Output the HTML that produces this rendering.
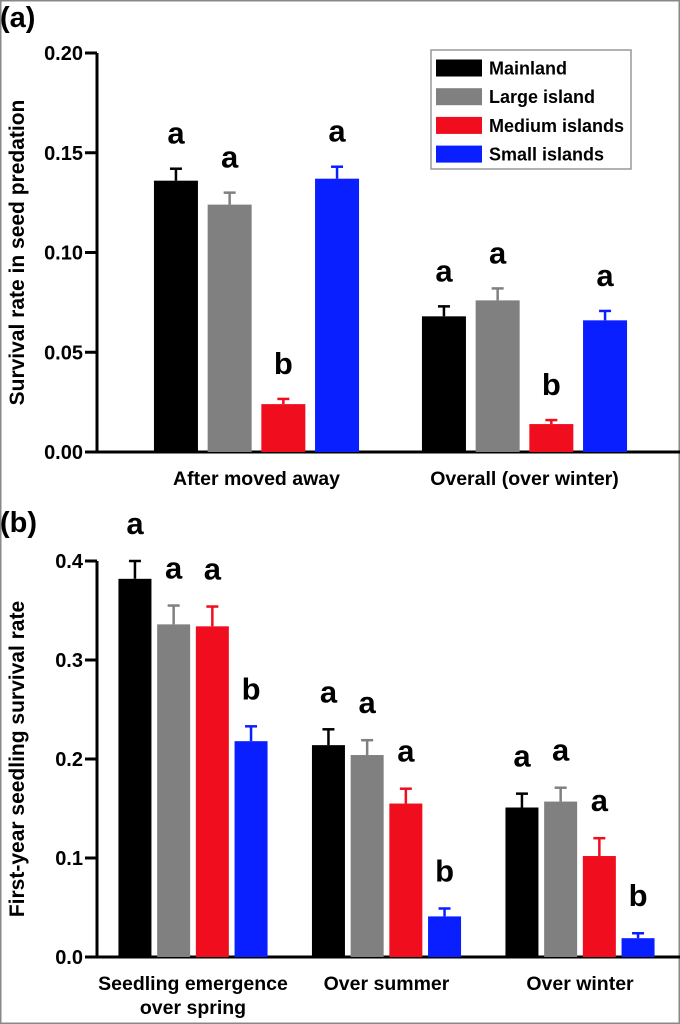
<!DOCTYPE html>
<html><head><meta charset="utf-8"><style>
html,body{margin:0;padding:0;background:#fff}
svg{display:block;font-family:"Liberation Sans",Arial,sans-serif;font-weight:bold}
</style></head><body>
<svg id="c" width="680" height="1024" viewBox="0 0 680 1024">
<rect x="0.5" y="0.5" width="679" height="1023" fill="#fff" stroke="#888" stroke-width="2"/>
</svg>
<script>
const seriesNames=["Mainland","Large island","Medium islands","Small islands"];
const colors=["#000000","#808080","#f00d1e","#0a1fff"];
const aCats=["After moved away","Overall (over winter)"];
const aVals=[[0.136,0.124,0.024,0.137],[0.068,0.076,0.014,0.066]];
const aErr=[[0.142,0.130,0.0266,0.143],[0.073,0.082,0.016,0.0707]];
const aLet=[["a","a","b","a"],["a","a","b","a"]];
const aTicks=[0,0.05,0.10,0.15,0.20];
const aTickLabels=["0.00","0.05","0.10","0.15","0.20"];
const bCats=[["Seedling emergence","over spring"],["Over summer"],["Over winter"]];
const bVals=[[0.382,0.336,0.334,0.218],[0.214,0.204,0.155,0.041],[0.151,0.157,0.102,0.019]];
const bErr=[[0.400,0.355,0.354,0.233],[0.230,0.219,0.170,0.049],[0.165,0.171,0.120,0.024]];
const bLet=[["a","a","a","b"],["a","a","a","b"],["a","a","a","b"]];
const bTicks=[0,0.1,0.2,0.3,0.4];
const bTickLabels=["0.0","0.1","0.2","0.3","0.4"];

const svg=document.getElementById('c');
const NS="http://www.w3.org/2000/svg";
function mk(tag,attrs,parent){const e=document.createElementNS(NS,tag);for(const k in attrs)e.setAttribute(k,attrs[k]);(parent||svg).appendChild(e);return e;}
function txt(s,attrs,parent){const e=mk('text',attrs,parent);e.textContent=s;return e;}

function panel(o){
  const g=mk('g',{});
  
  
  const y=v=>o.y0-(v/o.max)*(o.y0-o.yTop);
  const ya=mk('line',{x1:o.ax,y1:o.yTop,x2:o.ax,y2:o.y0+1.5,stroke:'#000','stroke-width':3},g);
  
  
  const xa=mk('line',{x1:o.ax-1.5,y1:o.y0,x2:o.xEnd,y2:o.y0,stroke:'#000','stroke-width':3},g);
  
  
  o.ticks.forEach((t,i)=>{
    const l=mk('line',{x1:o.ax-12,y1:y(t),x2:o.ax,y2:y(t),stroke:'#000','stroke-width':3},g);
    
    
    const tl=txt(o.tickLabels[i],{x:o.ax-14,y:y(t)+7,'text-anchor':'end','font-size':20},g);
    
    
  });
  const yt=txt(o.yTitle,{x:0,y:0,transform:`translate(${o.yTitleX},${(o.yTop+o.y0)/2}) rotate(-90)`,'text-anchor':'middle','font-size':21},g);
  
  
  o.vals.forEach((grp,gi)=>{
    const cx=o.c0+gi*o.gStep;
    grp.forEach((v,si)=>{
      const x=cx+(si-1.5)*o.step-o.bw/2;
      const r=mk('rect',{x:x,y:y(v),width:o.bw,height:o.y0-y(v),fill:colors[si]},g);
      
      
      const ex=x+o.bw/2, ey=y(o.err[gi][si]);
      const e1=mk('line',{x1:ex,y1:y(v),x2:ex,y2:ey,stroke:colors[si],'stroke-width':2.5},g);
      
      
      const e2=mk('line',{x1:ex-6,y1:ey,x2:ex+6,y2:ey,stroke:colors[si],'stroke-width':2.5},g);
      
      
      const lt=txt(o.lets[gi][si],{x:ex,y:ey-o.letGap,'text-anchor':'middle','font-size':31},g);
      
      
    });
    const lines=Array.isArray(o.cats[gi])?o.cats[gi]:[o.cats[gi]];
    lines.forEach((s,li)=>{
      const c=txt(s,{x:cx,y:o.y0+33+li*24,'text-anchor':'middle','font-size':19.5},g);
      
      
    });
  });
  const pl=txt(o.label,{x:0,y:o.labelY,'font-size':29},g);
  
  
}

panel({name:'panel-a',label:'(a)',labelY:27,ax:97,xEnd:680,yTop:53,y0:452,max:0.20,ticks:aTicks,tickLabels:aTickLabels,
  yTitle:'Survival rate in seed predation',yTitleX:24,vals:aVals,err:aErr,lets:aLet,cats:aCats,c0:256.5,gStep:268,step:53.7,bw:44,letGap:25});
panel({name:'panel-b',label:'(b)',labelY:532,ax:97,xEnd:680,yTop:561,y0:957,max:0.4,ticks:bTicks,tickLabels:bTickLabels,
  yTitle:'First-year seedling survival rate',yTitleX:24,vals:bVals,err:bErr,lets:bLet,cats:bCats,c0:193,gStep:193.5,step:38.7,bw:33,letGap:27});

const lg=mk('g',{});


mk('rect',{x:431,y:50,width:200,height:119,fill:'#fff',stroke:'#999','stroke-width':1.5},lg);
seriesNames.forEach((n,i)=>{
  const yy=68+i*28.7;
  const ent=mk('g',{},lg);
  
  
  mk('rect',{x:436,y:yy-8.5,width:46,height:17,fill:colors[i]},ent);
  txt(n,{x:489,y:yy+6.5,'font-size':18},ent);
});
</script>
</body></html>
